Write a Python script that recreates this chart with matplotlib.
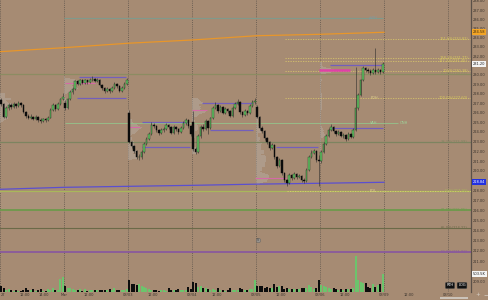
import numpy as np
import matplotlib
matplotlib.use("Agg")
import matplotlib.pyplot as plt
from matplotlib.patches import Rectangle
from matplotlib.ticker import FixedLocator, FormatStrFormatter, NullLocator

# ---- values: 15 min RTH bars, 26 per session ----
SESSIONS = ["02/27", "03/02", "03/03", "03/04", "03/05", "03/06"]
SESSION_OPEN = [227.3, 227.0, 226.0, 225.0, 226.6, 221.0]

CLOSE = [
    226.9, 225.6, 226.5, 226.8, 226.6, 226.9, 226.7, 227.0, 226.8, 226.1, 225.7, 225.5, 225.6,
    225.3, 225.6, 225.2, 225.1, 225.3, 225.2, 225.5, 226.3, 226.8, 226.4, 226.9, 227.4, 227.7,
    226.5, 227.4, 228.2, 228.5, 229.3, 229.0, 229.4, 229.1, 229.4, 229.2, 229.5, 229.6, 229.3,
    229.5, 228.9, 228.6, 228.3, 228.5, 228.3, 228.6, 229.0, 228.8, 228.3, 228.6, 229.0, 229.5,
    223.0, 222.5, 222.0, 221.4, 221.4, 221.9, 222.8, 223.3, 223.8, 224.7, 224.6, 224.2, 223.9,
    224.2, 224.3, 224.7, 224.5, 223.9, 224.5, 224.3, 224.0, 224.4, 224.9, 225.2, 224.6, 223.8,
    222.2, 221.9, 223.6, 224.5, 224.3, 225.1, 224.4, 225.4, 226.5, 226.8, 226.2, 226.6, 226.0,
    226.4, 226.2, 225.7, 226.5, 226.9, 227.1, 226.1, 225.8, 226.2, 226.0, 226.7, 227.1, 227.2,
    225.6, 224.4, 224.1, 223.4, 223.0, 222.3, 222.7, 221.4, 220.5, 221.1, 219.8, 219.1, 218.8,
    219.6, 219.3, 219.7, 219.4, 219.5, 219.1, 219.0, 220.1, 221.4, 221.8, 222.0, 221.1, 221.0,
    221.9, 222.8, 223.6, 224.2, 224.5, 224.1, 223.8, 224.0, 223.6, 223.7, 223.3, 223.8, 223.5,
    224.2, 226.5, 227.9, 229.4, 230.7, 230.5, 230.4, 230.2, 230.5, 230.3, 230.5, 230.3, 231.2,
]
HIGH = [
    227.6, 227.0, 226.7, 227.0, 227.0, 227.1, 227.0, 227.2, 227.1, 226.9, 226.2, 225.9, 225.9,
    225.7, 225.8, 225.7, 225.4, 225.5, 225.4, 225.7, 226.5, 227.0, 226.9, 227.1, 227.6, 228.1,
    227.3, 227.6, 228.4, 228.7, 229.5, 229.5, 229.6, 229.6, 229.6, 229.5, 229.7, 229.9, 229.7,
    229.7, 229.6, 229.0, 228.7, 228.7, 228.6, 228.8, 229.2, 229.1, 228.9, 228.8, 229.2, 229.7,
    226.3, 223.1, 222.6, 222.1, 221.7, 222.1, 223.0, 223.5, 224.0, 225.0, 224.9, 224.7, 224.3,
    224.4, 224.5, 224.9, 224.8, 224.6, 224.7, 224.6, 224.4, 224.6, 225.1, 225.4, 225.3, 224.7,
    226.2, 222.4, 223.8, 224.7, 224.8, 225.3, 225.2, 225.6, 226.7, 227.1, 226.9, 226.8, 226.7,
    226.6, 226.5, 226.3, 226.7, 227.1, 227.4, 227.2, 226.2, 226.4, 226.3, 226.9, 227.3, 227.6,
    226.8, 225.7, 224.6, 224.2, 223.5, 223.1, 222.9, 222.8, 221.5, 221.3, 221.2, 219.9, 219.2,
    219.8, 219.7, 219.9, 219.8, 219.7, 219.6, 219.3, 220.3, 221.6, 222.1, 222.2, 222.1, 221.6,
    222.1, 223.0, 223.8, 224.4, 224.8, 224.6, 224.2, 224.2, 224.1, 223.9, 223.8, 224.0, 223.9,
    224.4, 230.8, 228.1, 229.6, 230.9, 230.8, 230.7, 230.6, 230.7, 232.9, 230.7, 230.6, 231.4,
]
LOW = [
    226.7, 225.4, 225.5, 226.3, 226.4, 226.5, 226.5, 226.6, 226.6, 226.0, 225.5, 225.3, 225.3,
    225.2, 225.2, 225.0, 224.9, 225.0, 225.0, 225.1, 225.4, 226.2, 226.2, 226.3, 226.8, 227.3,
    226.3, 226.4, 227.3, 228.0, 228.4, 228.9, 228.9, 229.0, 229.0, 229.0, 229.1, 229.3, 229.2,
    229.2, 228.8, 228.4, 228.1, 228.2, 228.1, 228.2, 228.5, 228.6, 228.2, 228.2, 228.5, 228.9,
    222.9, 222.3, 221.8, 221.2, 221.1, 221.2, 221.8, 222.7, 223.2, 223.7, 224.4, 224.0, 223.7,
    223.8, 224.0, 224.2, 224.3, 223.8, 223.8, 224.1, 223.8, 223.9, 224.3, 224.7, 224.4, 223.6,
    222.0, 221.7, 221.8, 223.4, 224.1, 224.2, 223.8, 224.3, 225.3, 226.4, 226.0, 226.1, 225.9,
    225.9, 226.0, 225.6, 225.6, 226.4, 226.8, 225.9, 225.6, 225.7, 225.8, 225.9, 226.6, 226.9,
    225.4, 224.2, 223.9, 223.2, 222.8, 222.1, 222.2, 221.2, 220.3, 220.4, 219.6, 218.9, 218.5,
    218.7, 219.1, 219.2, 219.2, 219.3, 218.9, 218.8, 218.9, 220.0, 221.3, 221.7, 220.9, 218.5,
    220.8, 221.8, 222.7, 223.5, 224.1, 223.9, 223.6, 223.7, 223.5, 223.4, 223.1, 223.2, 223.4,
    223.4, 224.1, 226.3, 227.8, 229.3, 230.3, 230.2, 230.0, 230.1, 230.1, 230.2, 230.1, 230.2,
]
VOLUME_K = [
    162, 94, 43, 66, 43, 34, 48, 34, 28, 43, 94, 57, 43, 66, 34, 48, 66, 28, 34, 66, 48, 94, 43, 48, 370, 405,
    171, 94, 94, 66, 43, 48, 66, 34, 66, 34, 43, 48, 43, 48, 48, 48, 43, 43, 66, 43, 114, 48, 43, 43, 48, 66,
    333, 208, 208, 191, 208, 171, 143, 114, 66, 48, 48, 48, 34, 48, 48, 34, 94, 48, 43, 48, 66, 48, 43, 48, 143, 66,
    285, 237, 143, 162, 94, 94, 66, 48, 66, 48, 94, 48, 48, 34, 43, 94, 57, 57, 48, 114, 66, 48, 57, 66, 86, 333,
    171, 171, 171, 114, 143, 94, 114, 208, 143, 171, 171, 77, 94, 66, 66, 77, 66, 66, 114, 94, 94, 200, 143, 86, 114, 333,
    200, 171, 143, 114, 66, 94, 66, 48, 66, 48, 66, 66, 77, 114, 1017, 333, 285, 237, 237, 143, 114, 208, 143, 200, 228, 503.5,
]

# moving averages, read at each session start (bar units) and at the last bar
MA_X = [0, 26, 52, 78, 104, 130, 156]
MA_SLOW = [232.48, 232.91, 233.39, 233.74, 234.20, 234.36, 234.58]
MA_FAST = [218.13, 218.33, 218.43, 218.53, 218.65, 218.74, 218.84]

# studies drawn across the whole chart
LEVELS = [230.04, 222.99, 217.91, 216.05, 214.21, 211.92]
LEVEL_TXT = ["50.0%(230.04)", "38.2%(222.99)", "50%(217.91)",
             "61.8%(216.05)", "65.0%(214.21)", "50.0%(211.92)"]
# dotted extension levels starting at 03/05 midday
EXT_LEVELS = [233.82, 231.77, 231.45, 230.38, 227.60]
EXT_TXT = ["161.8%(233.82)", "138.2%(231.77)", "127.2%(231.45)",
           "100%(230.38)", "100.0%(227.60)"]
EXT_START = 115.8
PWH, PWH_SPAN = 236.10, (26.0, 155.6)
VAH, VAH_SPAN = 224.88, (26.4, 161.7)

# value area lines and POC segments per session (bar units)
VA_LEVELS = [229.8, 227.6, 225.0, 222.4, 227.0, 224.2, 222.4, 231.1, 224.4]
VA_START = [32.1, 31.3, 57.7, 57.7, 82.1, 85.3, 112.1, 134.1, 134.1]
VA_END = [51.2, 51.2, 76.0, 77.2, 102.8, 102.8, 129.2, 155.6, 155.6]
POC_LEVELS = [229.1, 224.5, 226.3, 219.3, 230.5]
POC_START = [26.4, 52.0, 78.0, 103.6, 129.6]
POC_END = [38.6, 56.9, 84.1, 116.2, 142.2]

# the first date label is cut by the left edge: only "27" shows
TIME_TICKS = [0, 10, 18, 26, 36, 52, 62, 78, 88, 104, 114, 130, 140, 156, 166, 182]
TIME_LABELS = ["27", "12:00", "14:00", "Mar", "12:00", "03/03", "12:00", "03/04", "12:00",
               "03/05", "12:00", "03/06", "12:00", "03/09", "12:00", "03/10"]
DAY_LINES = [0, 26, 52, 78, 104, 130, 156, 182]
PRICE_TICKS = list(range(209, 239))

BG = "#a68b73"
TXT = "#3a332d"
FS = 2.6
N_PER = 26

close = np.array(CLOSE)
high = np.array(HIGH)
low = np.array(LOW)
vol = np.array(VOLUME_K, dtype=float)
opens = []
for d, o in enumerate(SESSION_OPEN):
    opens.append(o)
    opens.extend(CLOSE[d * N_PER:(d + 1) * N_PER - 1])
opens = np.array(opens)
xs = np.arange(len(close)) + 0.5
up = close >= opens

fig = plt.figure(figsize=(4.89, 3.0), dpi=100)
fig.patch.set_facecolor(BG)
rect = [0, 8.3 / 300, 471 / 489, 291.7 / 300]
ax = fig.add_axes(rect)
ax.set_facecolor(BG)
ax.set_yscale("log")
ax.set_ylim(208.03, 238.11)
ax.set_xlim(0, 191.35)
for s in ax.spines.values():
    s.set_visible(False)

# price axis on the right; ticks hidden under the value tags are left out
vol_tag_price = 238.11 * np.exp(-(291.7 - vol[-1] / 28.5) / 2160)
covered = [close[-1], MA_FAST[-1], vol_tag_price]
shown = [p for p in PRICE_TICKS if min(abs(p - c) for c in covered) > 0.55]
ax.yaxis.tick_right()
ax.yaxis.set_major_locator(FixedLocator(shown))
ax.yaxis.set_minor_locator(NullLocator())
ax.yaxis.set_major_formatter(FormatStrFormatter("%.2f"))
ax.tick_params(axis="y", length=0, pad=1.4, labelsize=FS, labelcolor=TXT)
ax.set_xticks(TIME_TICKS[1:])
ax.set_xticklabels(TIME_LABELS[1:])
ax.tick_params(axis="x", length=0, pad=0.6, labelsize=FS, labelcolor=TXT)
ax.text(0.15, -0.006, TIME_LABELS[0], transform=ax.get_xaxis_transform(),
        ha="left", va="top", fontsize=FS, color=TXT)
ax.axvline(191.35, color="#5a5048", lw=0.9, clip_on=False)

for x in DAY_LINES:
    ax.axvline(x, color="#6d6054", lw=0.7, ls=(0, (1, 1.2)), zorder=1)

# band between the 50% and 61.8% lines
ax.axhspan(LEVELS[3], LEVELS[2], color="#c4b49e", alpha=0.18, lw=0, zorder=0.5)

level_cols = ["#8c8c62", "#7d8460", "#a9b85a", "#6e9a4c", "#6b6a48", "#8a5a9c"]
level_lw = [0.9, 0.9, 0.9, 1.3, 0.8, 1.3]
for p, t, c, lw in zip(LEVELS, LEVEL_TXT, level_cols, level_lw):
    ax.axhline(p, color=c, lw=lw, zorder=1.5)
    ax.text(190.1, p, t, ha="right", va="center", fontsize=FS, color=c, zorder=6)

for p, t in zip(EXT_LEVELS, EXT_TXT):
    ax.hlines(p, EXT_START, 191.35, color="#d6c46a", lw=0.6, ls=(0, (1.5, 1.5)), zorder=1.5)
    ax.text(190.1, p, t, ha="right", va="center", fontsize=FS, color="#d9c95e", zorder=6)
ax.hlines(LEVELS[2], EXT_START + 0.8, 191.35, color="#dccf70", lw=0.6, ls=(0, (1.5, 1.5)), zorder=1.6)
ax.text(152.3, EXT_LEVELS[-1], "PDH", ha="center", va="center", fontsize=FS, color="#e3d48e", zorder=6)
ax.text(151.5, LEVELS[2], "PDL", ha="center", va="center", fontsize=FS, color="#e3d48e", zorder=6)

ax.hlines(PWH, *PWH_SPAN, color="#7f9a8c", lw=0.8, zorder=1.5)
ax.text(151.5, PWH, "pWH", ha="center", va="center", fontsize=FS, color="#7f9aa0", zorder=6)
ax.hlines(VAH, *VAH_SPAN, color="#93c48c", lw=0.6, zorder=1.5)
ax.text(151.8, VAH, "VAH", ha="center", va="center", fontsize=FS, color="#9ed49a", zorder=6)
ax.text(164.0, VAH, "ONH", ha="center", va="center", fontsize=FS, color="#9ed49a", zorder=6)

# volume profile per session, built from the bars
for d in range(len(SESSIONS)):
    sl = slice(d * N_PER, (d + 1) * N_PER)
    lo = np.floor(low[sl].min() * 10) / 10
    hi = np.ceil(high[sl].max() * 10) / 10
    edges = np.arange(lo, hi + 0.05, 0.1)
    acc = np.zeros(len(edges) - 1)
    for l, h, v in zip(low[sl], high[sl], vol[sl]):
        m = (edges[:-1] >= l - 1e-6) & (edges[1:] <= h + 1e-6)
        if m.any():
            acc[m] += v / m.sum()
    mid = (edges[:-1] + edges[1:]) / 2
    width = acc / acc.max() * 5.5
    ax.fill_betweenx(mid, d * N_PER, d * N_PER + width, step="mid",
                     color="#b8b0a8", alpha=0.45, lw=0, zorder=1.2)

for p, a, b in zip(VA_LEVELS, VA_START, VA_END):
    ax.hlines(p, a, b, color="#6a58c8", lw=0.9, alpha=0.85, zorder=2)
for i, (p, a, b) in enumerate(zip(POC_LEVELS, POC_START, POC_END)):
    last = i == len(POC_LEVELS) - 1
    ax.hlines(p, a, b, color="#e040a8" if last else "#d46aa6",
              lw=1.8 if last else 0.8, zorder=2)

ax.plot(MA_X, MA_SLOW, color="#e8962a", lw=0.9, zorder=2.5)
ax.plot(MA_X, MA_FAST, color="#5b4fd0", lw=0.9, zorder=2.5)

# candles
ax.vlines(xs, low, high, color="#2a2a2a", lw=0.4, zorder=3)
body_lo = np.minimum(opens, close)
body_h = np.maximum(np.abs(close - opens), 0.06)
ax.bar(xs[up], body_h[up], bottom=body_lo[up], width=0.62, color="#66c466",
       edgecolor="#1d3a1d", lw=0.3, zorder=4)
ax.bar(xs[~up], body_h[~up], bottom=body_lo[~up], width=0.62, color="#0b0b0b",
       edgecolor="#0b0b0b", lw=0.3, zorder=4)

# volume overlay at the bottom
axv = fig.add_axes(rect, sharex=ax)
axv.patch.set_visible(False)
axv.set_ylim(0, 291.7 * 28.5)
axv.set_xlim(0, 191.35)
axv.axis("off")
axv.bar(xs, vol, width=0.8, color=np.where(up, "#6cc46c", "#0d0d0d"), lw=0)

# value tags on the price axis
ytr = ax.get_yaxis_transform()
tag = dict(ha="left", va="center", fontsize=FS, transform=ytr, clip_on=False, zorder=8)
ax.text(1.004, MA_SLOW[-1], f"{MA_SLOW[-1]:.2f}", color="#3a2a10",
        bbox=dict(boxstyle="square,pad=0.25", fc="#f3a526", ec="none"), **tag)
ax.text(1.004, close[-1], f"{close[-1]:.2f}", color="#222222",
        bbox=dict(boxstyle="square,pad=0.25", fc="#f4f4f4", ec="none"), **tag)
ax.text(1.004, MA_FAST[-1], f"{MA_FAST[-1]:.2f}", color="white",
        bbox=dict(boxstyle="square,pad=0.25", fc="#2230e0", ec="none"), **tag)
axv.text(1.004, vol[-1], f"{vol[-1]:.1f}K", ha="left", va="center", fontsize=FS,
         color="#222222", transform=axv.get_yaxis_transform(), clip_on=False,
         bbox=dict(boxstyle="square,pad=0.25", fc="#f4f4f4", ec="none"))

# split marker
ax.plot([104.8], [213.07], "o", ms=3.2, mfc="#9a948e", mec="#6e6862", mew=0.4, zorder=6)
ax.text(104.8, 213.07, "S", ha="center", va="center", fontsize=2.2, color="#3a3a3a", zorder=7)

# chart buttons
for x, t in [(450, "RTH"), (462, "LOG")]:
    fig.text(x / 489, 1 - 285.5 / 300, t, ha="center", va="center", fontsize=2.6, color="white",
             bbox=dict(boxstyle="round,pad=0.3", fc="#111111", ec="#555555", lw=0.3))
fig.text(478 / 489, 1 - 295 / 300, "+", ha="center", va="center", fontsize=4, color="#d8d0c8")
fig.text(486 / 489, 1 - 295 / 300, "\u2212", ha="center", va="center", fontsize=4, color="#d8d0c8")
fig.patches.append(Rectangle((440 / 489, 1 / 300), 28 / 489, 2 / 300, transform=fig.transFigure,
                             fc="#cbc3ba", ec="none"))

fig.savefig("out.png", dpi=100, facecolor=BG)
